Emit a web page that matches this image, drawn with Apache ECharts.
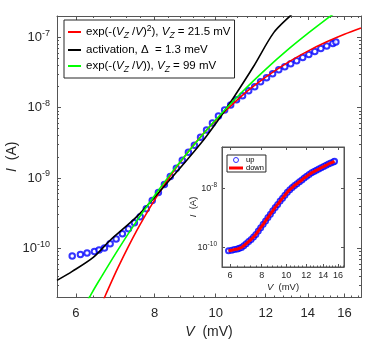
<!DOCTYPE html>
<html><head><meta charset="utf-8">
<script src="https://cdn.jsdelivr.net/npm/echarts@6/dist/echarts.min.js"></script>
<style>html,body{margin:0;padding:0;background:#fff}#c{width:374px;height:340px}</style>
</head><body><div id="c"></div>
<script>
// measured data (sweep up)
const dataV = [5.92,6.10,6.25,6.42,6.53,6.66,6.80,6.95,7.11,7.27,7.43,7.59,7.76,7.93,8.11,8.29,8.47,8.66,8.85,9.05,9.25,9.46,9.67,9.88,10.10,10.33,10.56,10.79,11.03,11.28,11.53,11.78,12.04,12.31,12.59,12.87,13.15,13.44,13.74,14.05,14.36,14.68,15.00,15.34,15.51];
const dataI = [7.8e-11,8.2e-11,8.6e-11,9.0e-11,9.5e-11,1.01e-10,1.16e-10,1.36e-10,1.61e-10,1.90e-10,2.31e-10,2.81e-10,3.66e-10,4.77e-10,6.20e-10,8.08e-10,1.05e-9,1.37e-9,1.78e-9,2.32e-9,2.92e-9,3.80e-9,4.78e-9,6.02e-9,7.58e-9,9.24e-9,1.09e-8,1.29e-8,1.47e-8,1.73e-8,1.97e-8,2.32e-8,2.65e-8,3.02e-8,3.45e-8,3.81e-8,4.21e-8,4.64e-8,5.13e-8,5.66e-8,6.25e-8,6.89e-8,7.48e-8,8.13e-8,8.54e-8];
// fit curves
const redV = [6.6,6.69,7,7.5,8,8.5,9,9.5,10,11,12,13,14,15,16,17];
const redI = [1.65e-11,2.19e-11,5.36e-11,1.81e-10,4.89e-10,1.12e-9,2.23e-9,3.99e-9,6.58e-9,1.47e-8,2.70e-8,4.35e-8,6.34e-8,8.59e-8,1.10e-7,1.35e-7];
const blackV = [5.6,5.92,6.4,6.8,7.5,8.37,9.46,10.06,10.67,11.48,12.36,13.15,13.5];
const blackI = [3.5e-11,4.7e-11,7.5e-11,1.3e-10,2.84e-10,8.45e-10,3.06e-9,6.4e-9,1.38e-8,3.83e-8,1.16e-7,2.04e-7,2.5e-7];
const greenV = [6.2,6.31,6.5,7,7.5,8,8.5,9,9.5,10,11,12,13,14,15,15.6];
const greenI = [1.55e-11,2.05e-11,3.24e-11,9.6e-11,2.47e-10,5.64e-10,1.17e-9,2.23e-9,3.98e-9,6.71e-9,1.65e-8,3.49e-8,6.59e-8,1.13e-7,1.82e-7,2.34e-7];
// ticks
const xMajor = [6,8,10,12,14,16];
const xMinor = [6.4,6.8,7.2,7.6,8.4,8.8,9.2,9.6,10.4,10.8,11.2,11.6,12.4,12.8,13.2,13.6,14.4,14.8,15.2,15.6,16.4,16.8];
const yMajor = [1e-10,1e-9,1e-8,1e-7];
const yMinor = [3e-11,4e-11,5e-11,6e-11,7e-11,8e-11,9e-11,2e-10,3e-10,4e-10,5e-10,6e-10,7e-10,8e-10,9e-10,2e-9,3e-9,4e-9,5e-9,6e-9,7e-9,8e-9,9e-9,2e-8,3e-8,4e-8,5e-8,6e-8,7e-8,8e-8,9e-8,2e-7];
const insetYMajor = [1e-10,1e-8];
const legendNames = ['fitRed','fitBlack','fitGreen'];

const pair = (a,b)=>a.map((v,i)=>[v,b[i]]);
const FONT = '"Liberation Sans", Arial, Helvetica, sans-serif';
const AX = '#555';
const TXT = '#262626';

function ax(grid, pos, min, max, ticks, len, extra){
  return Object.assign({
    gridIndex: grid, type:'log', logBase:10, min:min, max:max, position:pos,
    axisLine:{show:true, onZero:false, lineStyle:{color:AX, width:1}},
    axisTick:{show:true, inside:true, length:len, customValues:ticks, lineStyle:{color:AX, width:1}},
    axisLabel:{show:false, customValues:ticks},
    splitLine:{show:false}, minorTick:{show:false}, minorSplitLine:{show:false}
  }, extra||{});
}
const powFmt = v => '{b|10}{s|' + Math.round(Math.log10(v)) + '}';

const XMIN=5.6, XMAX=17, YMIN=2e-11, YMAX=2e-7;
const IXMIN=5.58, IXMAX=16.9, IYMIN=2.2e-11, IYMAX=2.6e-7;

const xAxes = [
  ax(0,'bottom',XMIN,XMAX,xMajor,4,{
    axisLabel:{show:true, customValues:xMajor, fontSize:13, color:TXT, fontFamily:FONT, margin:9, formatter:v=>String(Math.round(v))},
    name:'{i|V}  (mV)', nameLocation:'middle', nameGap:28,
    nameTextStyle:{fontSize:14, color:TXT, fontFamily:FONT, rich:{i:{fontStyle:'italic', fontSize:14, fontFamily:FONT, color:TXT}}}
  }),
  ax(0,'bottom',XMIN,XMAX,xMinor,2,{axisLine:{show:false}}),
  ax(0,'top',XMIN,XMAX,xMajor,4),
  ax(0,'top',XMIN,XMAX,xMinor,2,{axisLine:{show:false}}),
  ax(1,'bottom',IXMIN,IXMAX,xMajor,3,{
    axisLabel:{show:true, customValues:xMajor, fontSize:9, color:TXT, fontFamily:FONT, margin:4, formatter:v=>String(Math.round(v))},
    name:'{i|V}  (mV)', nameLocation:'middle', nameGap:15,
    nameTextStyle:{fontSize:9.5, color:TXT, fontFamily:FONT, rich:{i:{fontStyle:'italic', fontSize:9.5, fontFamily:FONT, color:TXT}}}
  }),
  ax(1,'bottom',IXMIN,IXMAX,xMinor,1.5,{axisLine:{show:false}}),
  ax(1,'top',IXMIN,IXMAX,xMajor,3),
];
const yAxes = [
  ax(0,'left',YMIN,YMAX,yMajor,4,{
    axisLabel:{show:true, customValues:yMajor, color:TXT, fontFamily:FONT, margin:7, formatter:powFmt,
      rich:{b:{fontSize:13, fontFamily:FONT, color:TXT}, s:{fontSize:9, fontFamily:FONT, color:TXT, padding:[0,0,8,0]}}},
    name:'{i|I}  (A)', nameLocation:'middle', nameGap:38, nameRotate:90, nameMoveOverlap:false,
    nameTextStyle:{fontSize:14, color:TXT, fontFamily:FONT, rich:{i:{fontStyle:'italic', fontSize:14, fontFamily:FONT, color:TXT}}}
  }),
  ax(0,'left',YMIN,YMAX,yMinor,2,{axisLine:{show:false}}),
  ax(0,'right',YMIN,YMAX,yMajor,4),
  ax(0,'right',YMIN,YMAX,yMinor,2,{axisLine:{show:false}}),
  ax(1,'left',IYMIN,IYMAX,insetYMajor,3,{
    axisLabel:{show:true, customValues:insetYMajor, color:TXT, fontFamily:FONT, margin:5, formatter:powFmt,
      rich:{b:{fontSize:9, fontFamily:FONT, color:TXT}, s:{fontSize:6.5, fontFamily:FONT, color:TXT, padding:[0,0,6,0]}}},
    name:'{i|I}  (A)', nameLocation:'middle', nameGap:24, nameRotate:90, nameMoveOverlap:false,
    nameTextStyle:{fontSize:9.5, color:TXT, fontFamily:FONT, rich:{i:{fontStyle:'italic', fontSize:9.5, fontFamily:FONT, color:TXT}}}
  }),
  ax(1,'right',IYMIN,IYMAX,insetYMajor,3),
];

const legendText = {
  fitRed: 'exp(-({i|V}{sub|Z} /{i|V}){sup|2}), {i|V}{sub|Z} = 21.5 mV',
  fitBlack: 'activation, Δ  = 1.3 meV',
  fitGreen: 'exp(-({i|V}{sub|Z} /{i|V})), {i|V}{sub|Z} = 99 mV'
};

const chart = echarts.init(document.getElementById('c'), null, {renderer:'canvas'});
chart.setOption({
  animation:false,
  backgroundColor:'#fff',
  grid:[
    {left:57, top:16, width:304, height:281.5, show:false, containLabel:false, outerBoundsMode:'none'},
    {left:222, top:147, width:122, height:120, show:true, backgroundColor:'#fff', borderColor:AX, borderWidth:1, containLabel:false, outerBoundsMode:'none'}
  ],
  xAxis:xAxes,
  yAxis:yAxes,
  legend:[
    {data:legendNames, orient:'vertical', left:64, top:20, padding:[4,4,4,4], itemGap:4,
     icon:'rect', itemWidth:13, itemHeight:2, backgroundColor:'#fff', borderColor:'#262626', borderWidth:1,
     selectedMode:false,
     formatter:n=>legendText[n],
     textStyle:{fontSize:11.5, color:'#000', fontFamily:FONT,
       rich:{i:{fontStyle:'italic', fontSize:11.5, fontFamily:FONT, color:'#000'},
             sub:{fontStyle:'italic', fontSize:8.5, fontFamily:FONT, color:'#000', padding:[7,0,0,0]},
             sup:{fontSize:8.5, fontFamily:FONT, color:'#000', padding:[0,0,7,0]}}}},
    {data:[{name:'up', icon:'circle', itemStyle:{color:'rgba(0,0,0,0)', borderColor:'#0000ff', borderWidth:1}},
           {name:'down', icon:'path://M0,0H14V3H0Z'}],
     orient:'vertical', left:227, top:155,
     padding:[1,2,0,2], itemGap:0, itemWidth:14, itemHeight:5, backgroundColor:'#fff', borderColor:'#262626', borderWidth:1,
     selectedMode:false, textStyle:{fontSize:7.5, color:'#000', fontFamily:FONT, padding:[0,0,0,-2]}}
  ],
  series:[
    {name:'data', type:'scatter', xAxisIndex:0, yAxisIndex:0, data:pair(dataV,dataI),
     symbol:'emptyCircle', symbolSize:5.5, itemStyle:{color:'#0000ff', borderColor:'#0000ff', borderWidth:1}, z:2},
    {name:'fitRed', type:'line', xAxisIndex:0, yAxisIndex:0, data:pair(redV,redI), showSymbol:false, smooth:0.3,
     lineStyle:{color:'#ff0000', width:1.6}, itemStyle:{color:'#ff0000'}, z:3},
    {name:'fitBlack', type:'line', xAxisIndex:0, yAxisIndex:0, data:pair(blackV,blackI), showSymbol:false, smooth:0.3,
     lineStyle:{color:'#000000', width:1.6}, itemStyle:{color:'#000000'}, z:3},
    {name:'fitGreen', type:'line', xAxisIndex:0, yAxisIndex:0, data:pair(greenV,greenI), showSymbol:false, smooth:0.3,
     lineStyle:{color:'#00ff00', width:1.6}, itemStyle:{color:'#00ff00'}, z:3},
    {name:'up', type:'scatter', xAxisIndex:4, yAxisIndex:4, data:pair(dataV,dataI),
     symbol:'emptyCircle', symbolSize:5, itemStyle:{color:'#0000ff', borderColor:'#0000ff', borderWidth:1}, z:4},
    {name:'down', type:'line', xAxisIndex:4, yAxisIndex:4, data:pair(dataV,dataI), showSymbol:false, smooth:0.3,
     lineStyle:{color:'#ff0000', width:3}, itemStyle:{color:'#ff0000'}, z:5}
  ]
});
</script>
</body></html>
